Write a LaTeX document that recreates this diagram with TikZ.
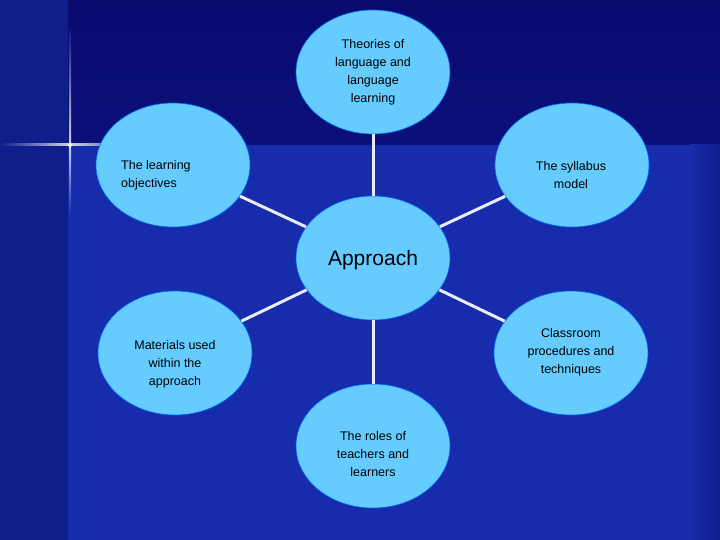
\documentclass[tikz,border=0pt]{standalone}
\usepackage{fontspec}
\setmainfont{Liberation Sans}
\usetikzlibrary{shapes.geometric}
\begin{document}
\begin{tikzpicture}[x=1pt,y=-1pt,
  bub/.style={ellipse,draw=blue!60!cyan,line width=0.6pt,fill=cyanbub,minimum width=154pt,minimum height=124pt,inner sep=0pt},
  txt/.style={align=center,font=\fontsize{12.5}{18}\selectfont,text=black,inner sep=0pt},
  link/.style={draw=white!92!blue,line width=3pt}]
\definecolor{cyanbub}{RGB}{102,204,255}
\definecolor{bgmain}{RGB}{22,44,170}
\definecolor{bgleft}{RGB}{16,30,140}
\definecolor{bgtop}{RGB}{8,10,110}
\fill[bgmain] (0,0) rectangle (720,540);
\fill[bgleft] (0,0) rectangle (68,540);
\shade[top color=bgtop,bottom color=bgtop!80!bgmain] (68,0) rectangle (720,145);
\shade[left color=bgmain,right color=bgleft] (690,145) rectangle (720,540);
% star flare
\shade[left color=bgleft,right color=white,opacity=0.8] (0,144) rectangle (70,146);
\shade[left color=white,right color=bgtop,opacity=0.8] (70,144) rectangle (160,146);
\shade[top color=bgleft,bottom color=white,opacity=0.8] (69,30) rectangle (71,145);
\shade[top color=white,bottom color=bgmain,opacity=0.8] (69,145) rectangle (71,215);
\fill[white] (70,145) circle (2);
\node[bub] (top) at (373,72) {};
\node[bub] (obj) at (173,165) {};
\node[bub] (syl) at (572,165) {};
\node[bub] (app) at (373,258) {};
\node[bub] (mat) at (175,353) {};
\node[bub] (cls) at (571,353) {};
\node[bub] (rol) at (373,446) {};
\node[txt] (topt) at (373,72) {Theories of\\language and\\language\\learning};
\node[txt,align=left,anchor=west] (objt) at (121,175) {The learning\\objectives};
\node[txt] (sylt) at (571,175) {The syllabus\\model};
\node[txt,font=\fontsize{21}{24}\selectfont] (appt) at (373,260) {Approach};
\node[txt] (matt) at (175,364) {Materials used\\within the\\approach};
\node[txt] (clst) at (571,352) {Classroom\\procedures and\\techniques};
\node[txt] (rolt) at (373,454) {The roles of\\teachers and\\learners};
\draw[link] (top) -- (app);
\draw[link] (obj) -- (app);
\draw[link] (syl) -- (app);
\draw[link] (mat) -- (app);
\draw[link] (cls) -- (app);
\draw[link] (rol) -- (app);
\end{tikzpicture}
\end{document}
